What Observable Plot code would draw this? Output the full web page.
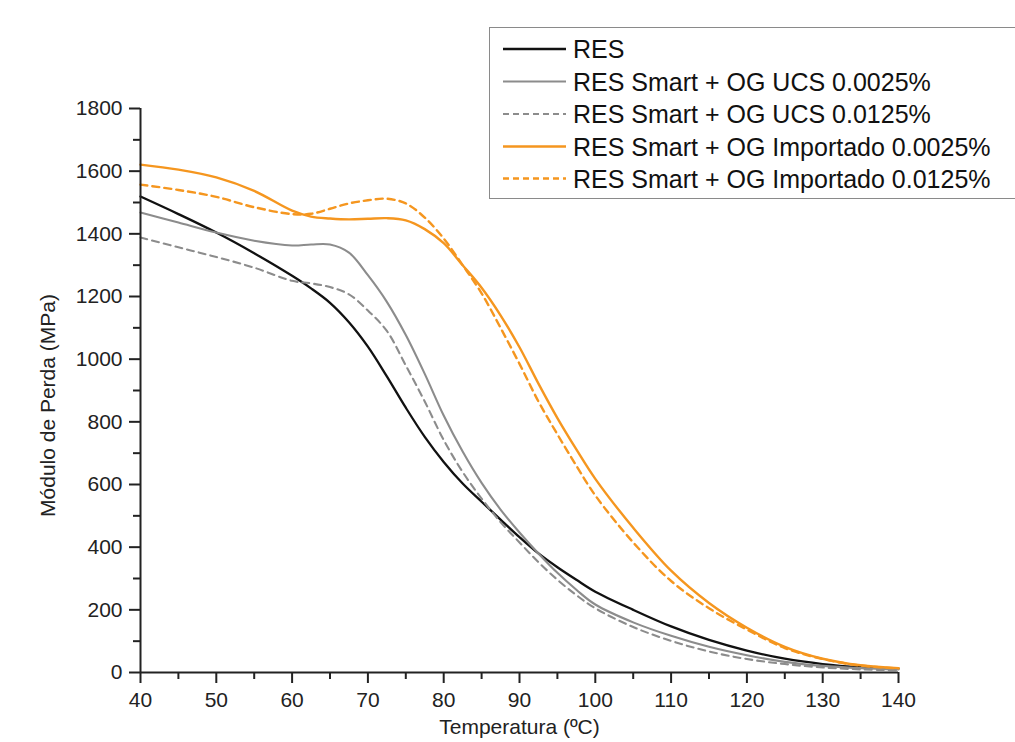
<!DOCTYPE html>
<html><head><meta charset="utf-8">
<script src="https://cdn.jsdelivr.net/npm/d3@7"></script>
<script src="https://cdn.jsdelivr.net/npm/@observablehq/plot@0.6"></script>
<style>
html,body{margin:0;padding:0;background:#fff;overflow:hidden;}
#wrap{position:relative;width:1015px;height:742px;overflow:hidden;font-family:"Liberation Sans",Arial,sans-serif;}
#legend{position:absolute;left:489px;top:27px;width:560px;height:172px;border:1.5px solid #8a8a8a;background:#fff;box-sizing:border-box;}
#legend svg{display:block;overflow:visible;}
</style>
</head><body>
<div id="wrap"><div id="chart"></div><div id="legend"></div></div>
<script>
// Temperature grid (ºC)
const temps = [40,45,50,55,60,62.5,65,67.5,70,72.5,75,77.5,80,82.5,85,87.5,90,92.5,95,97.5,100,105,110,115,120,125,130,135,140];
// Loss modulus (MPa) for each series
const res      = [1519,1463,1404,1338,1266,1226,1180,1118,1040,945,845,752,672,603,545,488,432,380,336,296,258,200,147,104,70,44,27,17,12];
const ucs0025  = [1468,1436,1404,1378,1363,1366,1366,1340,1268,1183,1077,953,820,705,605,520,447,380,318,264,217,160,117,82,55,34,21,14,10];
const ucs0125  = [1388,1357,1326,1292,1250,1242,1230,1207,1155,1090,980,865,742,640,555,480,415,352,296,247,205,145,101,67,43,27,16,10,7];
const imp0025  = [1621,1605,1580,1537,1474,1455,1449,1446,1448,1450,1443,1415,1370,1300,1228,1140,1038,922,812,712,618,462,325,222,143,82,44,23,14];
const imp0125  = [1557,1540,1518,1485,1463,1464,1480,1497,1507,1512,1497,1452,1385,1300,1210,1100,985,865,760,660,565,415,292,205,137,78,43,22,13];

const seriesNames = ["RES","RES Smart + OG UCS 0.0025%","RES Smart + OG UCS 0.0125%","RES Smart + OG Importado 0.0025%","RES Smart + OG Importado 0.0125%"];
const seriesValues = [res, ucs0025, ucs0125, imp0025, imp0125];
const seriesColors = ["#111111","#8c8c8c","#8c8c8c","#f5961f","#f5961f"];
const seriesDash = [null, null, "7,5", null, "7,5"];
const seriesWidth = [2.3, 2.1, 2.1, 2.4, 2.4];

const xMajor = d3.range(40, 141, 10);
const xMinor = d3.range(45, 140, 10);
const yMajor = d3.range(0, 1801, 200);
const yMinor = d3.range(100, 1800, 200);

const xLabel = "Temperatura (ºC)";
const yLabel = "Módulo de Perda (MPa)";

const data = seriesNames.map((name, i) => temps.map((t, j) => ({t, v: seriesValues[i][j], s: name})));

const axisColor = "#222";
const chart = Plot.plot({
  width: 1015,
  height: 742,
  marginLeft: 140,
  marginRight: 117,
  marginTop: 108,
  marginBottom: 70,
  style: {fontFamily: "Liberation Sans, Arial, sans-serif", fontSize: "21px", color: "#222", background: "transparent", overflow: "visible"},
  x: {domain: [40, 140]},
  y: {domain: [0, 1800]},
  marks: [
    ...data.map((d, i) => Plot.line(d, {x: "t", y: "v", stroke: seriesColors[i], strokeWidth: seriesWidth[i], strokeDasharray: seriesDash[i] ?? undefined, curve: "catmull-rom"})),
    Plot.axisX(xMajor, {tickSize: 11, tickPadding: 9, strokeWidth: 2, stroke: axisColor, fill: "#222", fontSize: 21, tickFormat: "d", label: null}),
    Plot.axisX(xMinor, {tickSize: 7, tickFormat: () => "", strokeWidth: 2, stroke: axisColor, label: null}),
    Plot.axisY(yMajor, {tickSize: 11, tickPadding: 7, strokeWidth: 2, stroke: axisColor, fill: "#222", fontSize: 21, tickFormat: "d", label: null}),
    Plot.axisY(yMinor, {tickSize: 7, tickFormat: () => "", strokeWidth: 2, stroke: axisColor, label: null}),
    Plot.ruleX([40], {stroke: axisColor, strokeWidth: 2}),
    Plot.ruleY([0], {stroke: axisColor, strokeWidth: 2}),
    Plot.text([yLabel], {frameAnchor: "left", textAnchor: "middle", rotate: -90, dx: -92, dy: 15, fontSize: 21, fill: "#222", lineAnchor: "middle"}),
    Plot.text([xLabel], {frameAnchor: "bottom", textAnchor: "middle", dy: 61, fontSize: 21, fill: "#222", lineAnchor: "bottom"})
  ]
});
document.getElementById("chart").appendChild(chart);

// Legend
const ns = "http://www.w3.org/2000/svg";
const lg = document.createElementNS(ns, "svg");
lg.setAttribute("width", 560);
lg.setAttribute("height", 170);
const rowY = [21, 53.5, 86, 118.5, 150.5];
seriesNames.forEach((name, i) => {
  const ln = document.createElementNS(ns, "line");
  ln.setAttribute("x1", 13); ln.setAttribute("x2", 76);
  ln.setAttribute("y1", rowY[i]); ln.setAttribute("y2", rowY[i]);
  ln.setAttribute("stroke", seriesColors[i]);
  ln.setAttribute("stroke-width", seriesWidth[i]);
  if (seriesDash[i]) ln.setAttribute("stroke-dasharray", "6,4");
  lg.appendChild(ln);
  const tx = document.createElementNS(ns, "text");
  tx.setAttribute("x", 83);
  tx.setAttribute("y", rowY[i]);
  tx.setAttribute("dy", "0.36em");
  tx.setAttribute("font-size", 25);
  tx.setAttribute("fill", "#111");
  tx.setAttribute("font-family", "Liberation Sans, Arial, sans-serif");
  tx.textContent = name;
  lg.appendChild(tx);
});
document.getElementById("legend").appendChild(lg);
</script>
</body></html>
